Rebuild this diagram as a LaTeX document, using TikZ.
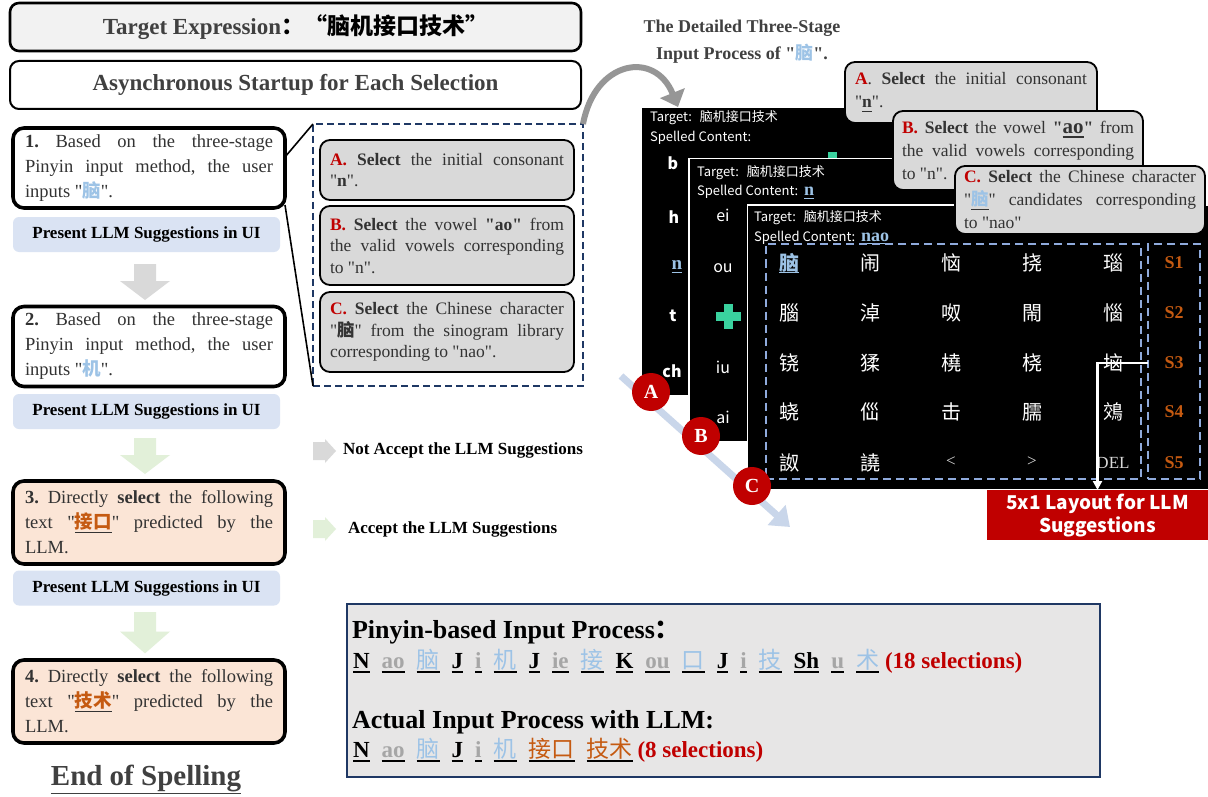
\documentclass[tikz,border=0pt]{standalone}
\usepackage{fontspec}
\setmainfont{Liberation Serif}
\newfontfamily\cjk{Noto Sans CJK SC}
\usetikzlibrary{calc,arrows.meta}
\frenchspacing
\definecolor{lgray}{HTML}{F2F2F2}
\definecolor{boxgray}{HTML}{D9D9D9}
\definecolor{pblue}{HTML}{DAE3F3}
\definecolor{peach}{HTML}{FBE5D6}
\definecolor{arrgray}{HTML}{D9D9D9}
\definecolor{arrgreen}{HTML}{E2F0D9}
\definecolor{navy}{HTML}{1F3864}
\definecolor{dashblue}{HTML}{8FAADC}
\definecolor{dred}{HTML}{C00000}
\definecolor{orng}{HTML}{C55A11}
\definecolor{lblue}{HTML}{9DC3E6}
\definecolor{mgray}{HTML}{A6A6A6}
\definecolor{txt}{HTML}{333333}
\definecolor{ttl}{HTML}{404040}
\definecolor{plusgreen}{HTML}{3AD29F}
\definecolor{diag}{HTML}{C9D6EA}
\definecolor{botfill}{HTML}{E7E6E6}
\definecolor{curv}{HTML}{969696}
\newcommand\dq{\textquotedbl{}}
\newcommand\ulx[1]{\sbox0{#1}\leavevmode\rlap{\rule[-4.5pt]{\wd0}{1.6pt}}\usebox0}
\newcommand\ulxs[1]{\sbox0{#1}\leavevmode\rlap{\rule[-3pt]{\wd0}{1.2pt}}\usebox0}
\newcommand\itm[2]{\ulx{\color{#1}#2}\hspace{12pt}}
\tikzset{
  pics/darr/.style={code={\fill[#1] (-11,0) -- (11,0) -- (11,17) -- (25,17) -- (0,36) -- (-25,17) -- (-11,17) -- cycle;}},
  pics/rarr/.style={code={\fill[#1] (0,-9) -- (12,-9) -- (12,-12) -- (23,0) -- (12,12) -- (12,9) -- (0,9) -- cycle;}},
  pics/greenplus/.style={code={\fill[plusgreen] (-4.5,-12.5) rectangle (4.5,12.5); \fill[plusgreen] (-12.5,-4.5) rectangle (12.5,4.5);}},
}
\begin{document}
\begin{tikzpicture}[x=1pt,y=-1pt,
  every node/.style={inner sep=0pt,outer sep=0pt},
  topbox/.style={draw=black, line width=2.6pt, rounded corners=9pt, minimum width=571pt, minimum height=48pt},
  stepbox/.style={draw=black, line width=3.6pt, rounded corners=11pt, fill=white, minimum width=272pt, minimum height=80pt, text width=248pt, align=justify, text=txt, font=\fontsize{18.5}{25}\selectfont},
  presbar/.style={fill=pblue, rounded corners=6pt, minimum width=267pt, minimum height=35pt, font=\bfseries\fontsize{17}{20}\selectfont},
  abox/.style={draw=black, line width=1.8pt, rounded corners=10pt, fill=boxgray, minimum width=254pt, text width=234pt, align=justify, text=txt, font=\fontsize{17.5}{21.5}\selectfont},
  callout/.style={draw=black, line width=1.8pt, rounded corners=10pt, fill=boxgray, text width=232pt, align=justify, text=txt, font=\fontsize{17.5}{23}\selectfont},
  legend/.style={anchor=west, font=\bfseries\fontsize{17}{20}\selectfont},
  scrtxt/.style={anchor=base west, text=white, font=\cjk\fontsize{13}{15}\selectfont},
  lettr/.style={text=white, font=\cjk\bfseries\fontsize{16}{16}\selectfont},
  vowel/.style={text=white, font=\cjk\fontsize{16}{16}\selectfont},
  gch/.style={text=white, font=\cjk\fontsize{20}{20}\selectfont},
  gsym/.style={text=white!85!black, font=\fontsize{17}{17}\selectfont},
  slab/.style={text=orng, font=\bfseries\fontsize{18}{18}\selectfont},
  circ/.style={circle, fill=dred, minimum size=38pt, text=white, font=\bfseries\fontsize{20}{20}\selectfont},
  dashbox/.style={draw=dashblue, line width=2pt, dash pattern=on 8pt off 5pt},
]
\useasboundingbox[fill=white] (0,0) rectangle (1208,797);

% ---------- left column ----------
\node[topbox, fill=lgray, font=\fontsize{23}{26}\selectfont] (tgt) at (295.5,27) {{\bfseries\color{ttl}Target Expression}{\cjk\bfseries ：“脑机接口技术”}};
\node[topbox, fill=white, line width=2pt, font=\bfseries\fontsize{23}{26}\selectfont, text=ttl] (async) at (295.5,85) {Asynchronous Startup for Each Selection};

\node[stepbox] (s1) at (149,168) {{\bfseries 1.} Based on the three-stage\linebreak Pinyin input method, the user\linebreak inputs \dq{\cjk\bfseries\color{lblue}脑}\dq.};
\node[presbar] (p1) at (146.5,234.5) {Present LLM Suggestions in UI};
\pic at (145,264) {darr=arrgray};
\node[stepbox] (s2) at (149,346.5) {{\bfseries 2.} Based on the three-stage\linebreak Pinyin input method, the user\linebreak inputs \dq{\cjk\bfseries\color{lblue}机}\dq.};
\node[presbar] (p2) at (146.5,411.5) {Present LLM Suggestions in UI};
\pic at (145,438) {darr=arrgreen};
\node[stepbox, fill=peach, minimum height=83pt] (s3) at (149,522.5) {{\bfseries 3.} Directly {\bfseries select} the following\linebreak text \dq\ulx{\cjk\bfseries\color{orng}接口}\dq{} predicted by the\linebreak LLM.};
\node[presbar] (p3) at (146.5,588) {Present LLM Suggestions in UI};
\pic[yscale=1.15] at (145,612) {darr=arrgreen};
\node[stepbox, fill=peach, minimum height=83pt] (s4) at (149,701.5) {{\bfseries 4.} Directly {\bfseries select} the following\linebreak text \dq\ulx{\cjk\bfseries\color{orng}技术}\dq{} predicted by the\linebreak LLM.};
\node[anchor=base, font=\bfseries\fontsize{29}{29}\selectfont, text=ttl] (eos) at (146,785) {\underline{End of Spelling}};

% ---------- dashed detail box ----------
\node[draw=navy, line width=2.2pt, dash pattern=on 7pt off 4pt, minimum width=270pt, minimum height=262pt] (dash) at (448,255) {};
\node[abox, minimum height=60pt] (ba) at (447,170) {{\color{dred}\bfseries A.} {\bfseries Select} the initial consonant\linebreak \dq{\bfseries n}\dq.};
\node[abox, minimum height=79pt] (bb) at (447,245.5) {{\color{dred}\bfseries B.} {\bfseries Select} the vowel {\bfseries \dq ao\dq} from\linebreak the valid vowels corresponding\linebreak to \dq n\dq.};
\node[abox, minimum height=80pt] (bc) at (447,332) {{\color{dred}\bfseries C.} {\bfseries Select} the Chinese character\linebreak \dq{\cjk\bfseries 脑}\dq{} from the sinogram library\linebreak corresponding to \dq nao\dq.};
\draw[line width=1.6pt] ($(s1.east)+(0,-11)$) -- (dash.north west);
\draw[line width=1.6pt] ($(s1.east)+(0,37)$) -- (dash.south west);

% ---------- legend ----------
\pic at (313,451) {rarr=arrgray};
\node[legend] (nacc) at (343,450) {Not Accept the LLM Suggestions};
\pic at (313,529) {rarr=arrgreen};
\node[legend] (acc) at (348,529) {Accept the LLM Suggestions};

% ---------- bottom summary box ----------
\node[draw=navy, line width=2.6pt, fill=botfill, minimum width=753pt, minimum height=173pt] (bot) at (723.5,690.5) {};
\node[anchor=base west, font=\bfseries\fontsize{26}{26}\selectfont] (bt1) at (352,638) {Pinyin-based Input Process{\cjk\bfseries ：}};
\node[anchor=base west, font=\bfseries\fontsize{23}{23}\selectfont] (bl2) at (353,668) {\itm{black}{N}\itm{mgray}{ao}\itm{lblue}{\cjk\mdseries 脑}\itm{black}{J}\itm{mgray}{i}\itm{lblue}{\cjk\mdseries 机}\itm{black}{J}\itm{mgray}{ie}\itm{lblue}{\cjk\mdseries 接}\itm{black}{K}\itm{mgray}{ou}\itm{lblue}{\cjk\mdseries 口}\itm{black}{J}\itm{mgray}{i}\itm{lblue}{\cjk\mdseries 技}\itm{black}{Sh}\itm{mgray}{u}\ulx{\color{lblue}\cjk\mdseries 术}\hspace{6pt}{\color{dred}(18 selections)}};
\node[anchor=base west, font=\bfseries\fontsize{26}{26}\selectfont] (bt3) at (352,728) {Actual Input Process with LLM:};
\node[anchor=base west, font=\bfseries\fontsize{23}{23}\selectfont] (bl4) at (353,757) {\itm{black}{N}\itm{mgray}{ao}\itm{lblue}{\cjk\mdseries 脑}\itm{black}{J}\itm{mgray}{i}\itm{lblue}{\cjk\mdseries 机}\itm{orng}{\cjk\mdseries 接口}\ulx{\color{orng}\cjk\mdseries 技术}\hspace{5pt}{\color{dred}(8 selections)}};

% ---------- right: heading and arrows ----------
\node[anchor=base, font=\bfseries\fontsize{18}{20}\selectfont, text=ttl] (hd1) at (742,33) {The Detailed Three-Stage};
\node[anchor=base, font=\bfseries\fontsize{18}{20}\selectfont, text=ttl] (hd2) at (742,60) {Input Process of \dq{\cjk\color{lblue}脑}\dq.};

\coordinate (dstart) at (621,376);
\coordinate (dend) at (790,527);
\draw[line width=7pt, diag, -{Triangle[length=18pt,width=26pt]}] (dstart) -- (dend);

% screen 1
\node[fill=black, minimum width=358pt, minimum height=287pt] (scr1) at (821,251.5) {};
\node[scrtxt] (t1) at (650,122) {Target:\hspace{8pt}脑机接口技术};
\node[scrtxt] (c1) at (650,142) {Spelled Content:};
\node[lettr] (lb) at (673,163) {b};
\node[lettr] (lh) at (674,217) {h};
\node[text=lblue, font=\bfseries\fontsize{19}{19}\selectfont] (ln) at (677,267) {\ulxs{n}};
\node[lettr] (lt) at (673,316) {t};
\node[lettr] (lch) at (672,371) {ch};
\pic at (832,165) {greenplus};

% screen 2
\node[fill=black, draw=white, line width=1.5pt, minimum width=411pt, minimum height=283pt] (scr2) at (894.5,300) {};
\node[scrtxt] (t2) at (697,176) {Target:\hspace{8pt}脑机接口技术};
\node[scrtxt] (c2) at (697,196) {Spelled Content:\hspace{6pt}{\color{lblue}\rmfamily\bfseries\fontsize{18}{18}\selectfont\ulxs{n}}};
\node[vowel] (vei) at (723,215) {ei};
\node[vowel] (vou) at (723,268) {ou};
\pic at (728,316) {greenplus};
\node[vowel] (viu) at (723,367) {iu};
\node[vowel] (vai) at (723,417) {ai};

% screen 3
\node[fill=black, draw=white, line width=1.5pt, minimum width=461pt, minimum height=285pt] (scr3) at (978,347.5) {};
\node[scrtxt] (t3) at (754,221) {Target:\hspace{8pt}脑机接口技术};
\node[scrtxt] (c3) at (754,241) {Spelled Content:\hspace{6pt}{\color{lblue}\rmfamily\bfseries\fontsize{18}{18}\selectfont\ulxs{nao}}};
\node[dashbox, minimum width=375pt, minimum height=235pt] (grid) at (953.5,361) {};
\node[dashbox, minimum width=52pt, minimum height=235pt] (sbox) at (1174,361) {};
\node[gch, text=lblue] (g10) at (789,263) {\ulxs{\bfseries 脑}};
\foreach \x/\ch [count=\i] in {870/闹,951/恼,1032/挠,1113/瑙} \node[gch] (g1\i) at (\x,263) {\ch};
\foreach \x/\ch [count=\i] in {789/腦,870/淖,951/呶,1032/閙,1113/惱} \node[gch] (g2\i) at (\x,313) {\ch};
\foreach \x/\ch [count=\i] in {789/铙,870/猱,951/橈,1032/桡,1113/垴} \node[gch] (g3\i) at (\x,363) {\ch};
\foreach \x/\ch [count=\i] in {789/蛲,870/㑎,951/击,1032/臑,1113/鵁} \node[gch] (g4\i) at (\x,412) {\ch};
\node[gch] (g51) at (789,463) {詉};
\node[gch] (g52) at (870,463) {譊};
\node[gsym] (g53) at (951,462) {<};
\node[gsym] (g54) at (1032,462) {>};
\node[gsym] (g55) at (1113,463) {DEL};
\foreach \y [count=\i] in {263,313,363,412,463} \node[slab] (sl\i) at (1174,\y) {S\i};

% curved arrow
\coordinate (ctip) at (678,107);
\draw[line width=6pt, curv, -{Triangle[length=15pt,width=26pt]}] (dash.north east) .. controls (595,60) and (655,50) .. (ctip);

% callouts
\node[callout, minimum width=252pt, minimum height=61pt] (ca) at (971,92.5) {{\color{dred}\bfseries A}. {\bfseries Select} the initial consonant\linebreak \dq\ulx{\bfseries n}\dq.};
\node[callout, minimum width=250pt, minimum height=79pt] (cb) at (1018,150.5) {{\color{dred}\bfseries B.} {\bfseries Select} the vowel {\bfseries \dq\ulx{\fontsize{21}{21}\selectfont ao}\dq} from\linebreak the valid vowels corresponding\linebreak to \dq n\dq.};
\node[callout, minimum width=250pt, minimum height=68pt] (cc) at (1080,200) {{\color{dred}\bfseries C.} {\bfseries Select} the Chinese character\linebreak \dq\ulx{\cjk\bfseries\color{lblue}脑}\dq{} candidates corresponding\linebreak to \dq nao\dq};

% circles
\node[circ] (cA) at (651,392) {A};
\node[circ] (cB) at (701,436) {B};
\node[circ] (cC) at (752,486) {C};

% red label and white connector
\node[fill=dred, minimum width=221pt, minimum height=50pt] (redbox) at (1097.5,515) {};
\node[text=white, font=\cjk\bfseries\fontsize{19}{19}\selectfont] (rl1) at (1097.5,504) {5x1 Layout for LLM};
\node[text=white, font=\cjk\bfseries\fontsize{19}{19}\selectfont] (rl2) at (1097.5,527) {Suggestions};
\coordinate (wst) at (1148,363);
\draw[white, line width=2.2pt, -{Triangle[length=9pt,width=9pt]}] (wst) -| (redbox.north);
\end{tikzpicture}
\end{document}
